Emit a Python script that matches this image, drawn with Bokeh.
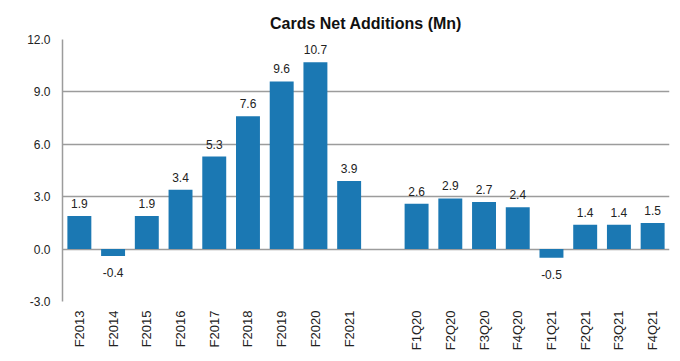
import math
from bokeh.plotting import figure
from bokeh.models import FactorRange, ColumnDataSource, LabelSet, FixedTicker, NumeralTickFormatter
from bokeh.core.properties import value
from bokeh.embed import file_html
from bokeh.resources import INLINE

annual_labels = ["F2013", "F2014", "F2015", "F2016", "F2017", "F2018", "F2019", "F2020", "F2021"]
annual_values = [1.9, -0.4, 1.9, 3.4, 5.3, 7.6, 9.6, 10.7, 3.9]
quarter_labels = ["F1Q20", "F2Q20", "F3Q20", "F4Q20", "F1Q21", "F2Q21", "F3Q21", "F4Q21"]
quarter_values = [2.6, 2.9, 2.7, 2.4, -0.5, 1.4, 1.4, 1.5]
y_ticks = [-3.0, 0.0, 3.0, 6.0, 9.0, 12.0]
title_text = "Cards Net Additions (Mn)"

GAP = " "
factors = annual_labels + [GAP] + quarter_labels
cats = annual_labels + quarter_labels
vals = annual_values + quarter_values
texts = ["%.1f" % v for v in vals]

BAR = "#1b78b3"
GRID = "#9c9c9c"
TXT = "#222222"
FONT = "Liberation Sans"

p = figure(width=672, height=353, x_range=FactorRange(factors=factors, range_padding=0),
           y_range=(-3, 12), output_backend="svg", toolbar_location=None,
           min_border_left=62, min_border_right=3, min_border_top=39, min_border_bottom=46)

p.title.text = title_text
p.title.align = "center"
p.title.text_font = FONT
p.title.text_font_size = "16px"
p.title.text_font_style = "bold"
p.title.text_color = "#111111"
p.title.standoff = 16

p.outline_line_color = None
p.background_fill_color = "white"
p.border_fill_color = "white"

src = ColumnDataSource(dict(x=cats, top=vals, text=texts))
p.vbar(x="x", top="top", bottom=0, width=0.71, source=src, fill_color=BAR, line_color=None)

pos = [i for i, v in enumerate(vals) if v >= 0]
neg = [i for i, v in enumerate(vals) if v < 0]
src_pos = ColumnDataSource(dict(x=[cats[i] for i in pos], y=[vals[i] for i in pos], text=[texts[i] for i in pos]))
src_neg = ColumnDataSource(dict(x=[cats[i] for i in neg], y=[vals[i] for i in neg], text=[texts[i] for i in neg]))
p.add_layout(LabelSet(x="x", y="y", text="text", source=src_pos, text_align="center",
                      text_baseline="bottom", y_offset=8, text_font=value(FONT),
                      text_font_size=value("12px"), text_color=TXT))
p.add_layout(LabelSet(x="x", y="y", text="text", source=src_neg, text_align="center",
                      text_baseline="top", y_offset=-12, text_font=value(FONT),
                      text_font_size=value("12px"), text_color=TXT))

p.xgrid.grid_line_color = None
p.ygrid.grid_line_color = GRID
p.ygrid.grid_line_width = 1.5
p.yaxis.ticker = FixedTicker(ticks=y_ticks)
p.yaxis.formatter = NumeralTickFormatter(format="0.0")
p.yaxis.axis_line_color = GRID
p.yaxis.axis_line_width = 1.5
p.yaxis.major_tick_line_color = None
p.yaxis.minor_tick_line_color = None
p.yaxis.major_tick_out = 0
p.yaxis.major_tick_in = 0
p.yaxis.major_label_text_font = FONT
p.yaxis.major_label_text_font_size = "12px"
p.yaxis.major_label_text_color = TXT
p.yaxis.major_label_standoff = 12

p.xaxis.axis_line_color = None
p.xaxis.major_tick_line_color = None
p.xaxis.minor_tick_line_color = None
p.xaxis.major_tick_out = 0
p.xaxis.major_tick_in = 0
p.xaxis.major_label_orientation = math.pi / 2
p.xaxis.major_label_text_font = FONT
p.xaxis.major_label_text_font_size = "13px"
p.xaxis.major_label_text_color = TXT
p.xaxis.major_label_standoff = 9

open("out.html", "w").write(file_html(p, INLINE))
